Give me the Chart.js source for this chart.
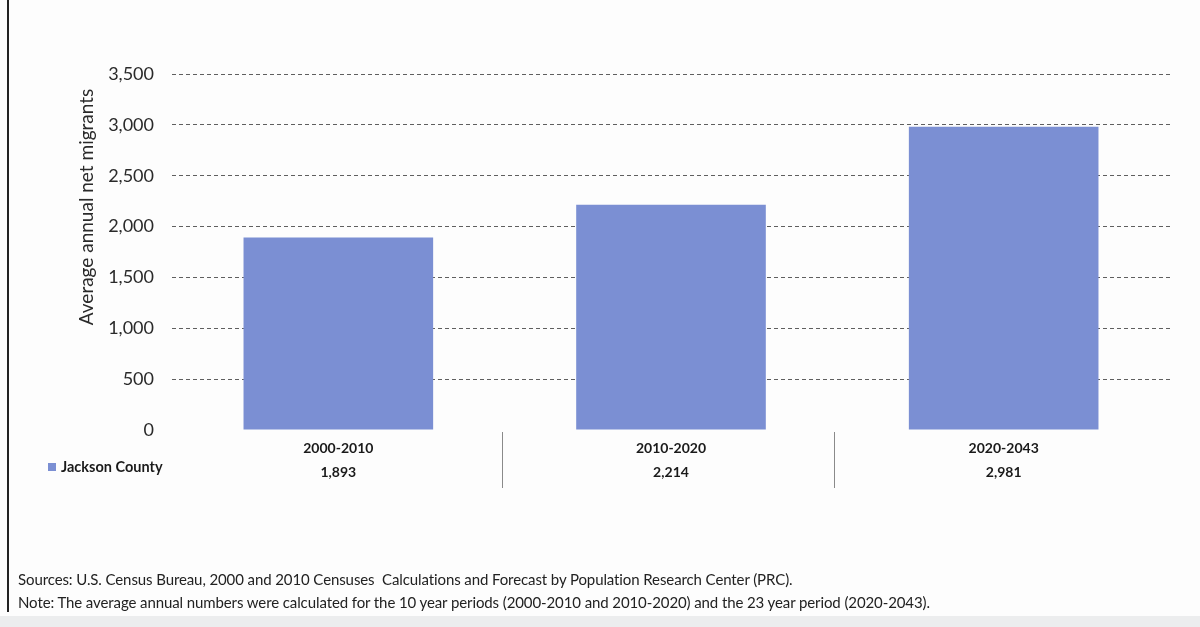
<!DOCTYPE html>
<html>
<head>
<meta charset="utf-8">
<script src="https://cdn.jsdelivr.net/npm/chart.js@4/dist/chart.umd.min.js"></script>
<style>
  html, body { margin: 0; padding: 0; background: #fdfdfd; }
  #wrap { position: relative; width: 1200px; height: 627px; overflow: hidden; }
  #frame { position: absolute; left: 7px; top: 0; width: 2px; height: 612px; background: #222; }
  #foot { position: absolute; left: 0; top: 616px; width: 1200px; height: 11px; background: #ecedee; }
  .note { position: absolute; left: 18px; font-family: Lato, sans-serif;
          font-size: 15px; color: #222; white-space: nowrap; letter-spacing: -0.1px; }
</style>
</head>
<body>
<div id="wrap">
  <canvas id="chart" width="1200" height="627"></canvas>
  <div id="frame"></div>
  <div id="foot"></div>
  <div class="note" style="top:570px">Sources: U.S. Census Bureau, 2000 and 2010 Censuses&nbsp; Calculations and Forecast by Population Research Center (PRC).</div>
  <div class="note" style="top:593px">Note: The average annual numbers were calculated for the 10 year periods (2000-2010 and 2010-2020) and the 23 year period (2020-2043).</div>
</div>
<script>
const periods = ['2000-2010', '2010-2020', '2020-2043'];
const netMigrants = [1893, 2214, 2981];
const yTicks = [0, 500, 1000, 1500, 2000, 2500, 3000, 3500];
const seriesName = 'Jackson County';
const axisTitle = 'Average annual net migrants';

const barColor = '#7b8fd3';
const fmt = v => v.toLocaleString('en-US');

// table under the bars: separators, legend key and the rotated axis title
const tablePlugin = {
  id: 'tableBits',
  afterDraw(chart) {
    const { ctx, scales: { x, y } } = chart;
    ctx.save();
    ctx.strokeStyle = '#8a8a8a';
    ctx.lineWidth = 1;
    for (let i = 0; i < periods.length - 1; i++) {
      const sx = Math.round((x.getPixelForValue(i) + x.getPixelForValue(i + 1)) / 2) - 2.5;
      ctx.beginPath();
      ctx.moveTo(sx, y.bottom + 2);
      ctx.lineTo(sx, y.bottom + 58);
      ctx.stroke();
    }
    const ds = chart.data.datasets[0];
    ctx.fillStyle = ds.backgroundColor;
    ctx.fillRect(48, 463, 8, 8);
    ctx.fillStyle = '#1a1a1a';
    ctx.font = 'bold 14.5px Lato, sans-serif';
    ctx.textBaseline = 'middle';
    ctx.fillText(ds.label, 61, 467);

    ctx.translate(87, 207);
    ctx.rotate(-Math.PI / 2);
    ctx.textAlign = 'center';
    ctx.font = '19px Lato, sans-serif';
    ctx.fillStyle = '#2a2a2a';
    ctx.fillText(axisTitle, 0, 0);
    ctx.restore();
  }
};

new Chart(document.getElementById('chart'), {
  type: 'bar',
  data: {
    labels: periods,
    datasets: [{
      label: seriesName,
      data: netMigrants,
      backgroundColor: barColor,
      borderWidth: 0,
      categoryPercentage: 0.57,
      barPercentage: 1
    }]
  },
  options: {
    responsive: false,
    animation: false,
    layout: { padding: { top: 74, right: 30, left: 0, bottom: 0 } },
    plugins: {
      legend: { display: false },
      tooltip: { enabled: false }
    },
    scales: {
      x: {
        afterFit: s => { s.height = 197; },
        grid: { display: false },
        border: { display: false },
        ticks: {
          padding: -2,
          color: '#1a1a1a',
          font: { family: 'Lato, sans-serif', size: 14, weight: 'bold', lineHeight: 1.75 },
          maxRotation: 0,
          callback: (v, i) => [periods[i], fmt(netMigrants[i])]
        }
      },
      y: {
        min: yTicks[0],
        max: yTicks[yTicks.length - 1],
        afterFit: s => { s.width = 172; },
        afterBuildTicks: s => { s.ticks = yTicks.map(v => ({ value: v })); },
        border: { display: false, dash: [4, 3] },
        grid: {
          drawTicks: false,
          color: c => (c.tick && c.tick.value === 0) ? 'rgba(0,0,0,0)' : '#5f5f5f',
          lineWidth: 1
        },
        ticks: {
          padding: 18,
          color: '#2a2a2a',
          font: { family: 'Lato, sans-serif', size: 18 },
          callback: v => fmt(v)
        }
      }
    }
  },
  plugins: [tablePlugin]
});
</script>
</body>
</html>
